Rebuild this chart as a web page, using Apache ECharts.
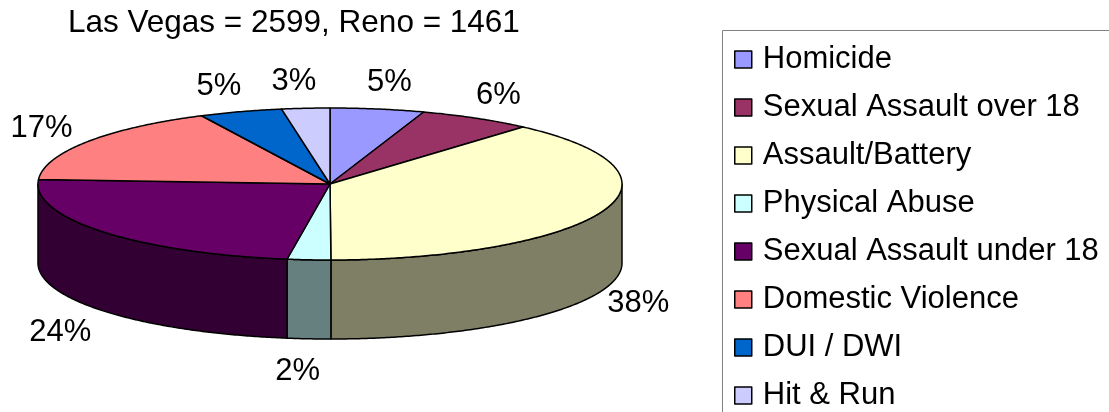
<!DOCTYPE html>
<html>
<head>
<meta charset="utf-8">
<script src="https://cdn.jsdelivr.net/npm/echarts@6/dist/echarts.min.js"></script>
<style>
html, body { margin: 0; padding: 0; background: #fff; }
#chart1 { width: 1109px; height: 412px; }
</style>
</head>
<body>
<div id="chart1"></div>
<script>
// data
var titleText = 'Las Vegas = 2599, Reno = 1461';
var categories = ['Homicide', 'Sexual Assault over 18', 'Assault/Battery', 'Physical Abuse',
    'Sexual Assault under 18', 'Domestic Violence', 'DUI / DWI', 'Hit & Run'];
var shares = [5.2, 6.3, 38.45, 2.4, 23.6, 16.8, 4.6, 2.65];
var colors = ['#9999FF', '#993366', '#FFFFCC', '#CCFFFF', '#660066', '#FF8080', '#0066CC', '#CCCCFF'];

var fontFamily = '"Liberation Sans", Arial, sans-serif';

// pie geometry (3d look)
var cx = 330, cy = 184, rx = 292, ry = 76, depth = 79;

var total = shares.reduce(function (a, b) { return a + b; }, 0);
var cum = [0];
shares.forEach(function (v, i) { cum.push(cum[i] + v); });

function darker(hex) {
    var n = parseInt(hex.slice(1), 16);
    var r = (n >> 16) >> 1, g = ((n >> 8) & 255) >> 1, b = (n & 255) >> 1;
    return 'rgb(' + r + ',' + g + ',' + b + ')';
}
function pt(a, dy) {
    return [cx + rx * Math.sin(a), cy - ry * Math.cos(a) + (dy || 0)];
}
function arc(a0, a1, dy) {
    var pts = [];
    var n = Math.max(2, Math.ceil(Math.abs(a1 - a0) / (Math.PI / 360)));
    for (var k = 0; k <= n; k++) {
        pts.push(pt(a0 + (a1 - a0) * k / n, dy));
    }
    return pts;
}

function renderItem(params, api) {
    var i = params.dataIndex;
    var color = colors[i];
    var start = cum[i] / total * Math.PI * 2;
    var end = (cum[i] + api.value(0)) / total * Math.PI * 2;
    var children = [];

    // side wall, only the front half is visible
    var lo = Math.max(start, Math.PI / 2), hi = Math.min(end, Math.PI * 1.5);
    if (lo < hi) {
        var wall = arc(lo, hi, 0).concat(arc(hi, lo, depth));
        children.push({
            type: 'polygon',
            shape: { points: wall },
            style: { fill: darker(color), stroke: '#000', lineWidth: 1.5, lineJoin: 'round' }
        });
    }
    // top face
    children.push({
        type: 'polygon',
        shape: { points: [[cx, cy]].concat(arc(start, end, 0)) },
        style: { fill: color, stroke: '#000', lineWidth: 1.5, lineJoin: 'round' }
    });
    // percent label, outside the rim
    var mid = (start + end) / 2;
    var s = Math.sin(mid), c = Math.cos(mid);
    var base = pt(mid, c < 0 ? depth : 0);
    var dx = s > 0 ? 7 + 30 * s : -8 + 45 * s;
    children.push({
        type: 'text',
        style: {
            text: Math.round(api.value(0) / total * 100) + '%',
            x: base[0] + dx,
            y: base[1] - c * 30 + 3,
            align: 'center',
            verticalAlign: 'middle',
            fontSize: 31,
            fontFamily: fontFamily,
            fill: '#000'
        }
    });
    return { type: 'group', children: children };
}

var chart = echarts.init(document.getElementById('chart1'));
chart.setOption({
    animation: false,
    title: {
        text: titleText,
        left: 68,
        top: 7,
        padding: 0,
        textStyle: { fontSize: 31.5, fontWeight: 'normal', color: '#000', fontFamily: fontFamily }
    },
    // legend frame runs off the right and bottom edges
    graphic: [{
        type: 'rect',
        shape: { x: 722.5, y: 30.5, width: 440, height: 440 },
        style: { fill: 'none', stroke: '#808080', lineWidth: 1 },
        silent: true
    }],
    legend: {
        orient: 'vertical',
        left: 722,
        top: 31,
        width: 440,
        height: 440,
        data: categories,
        icon: 'rect',
        itemWidth: 17,
        itemHeight: 17,
        itemGap: 17,
        selectedMode: false,
        padding: [13, 40, 40, 12],
        itemStyle: { borderColor: '#000', borderWidth: 1.5 },
        textStyle: { fontSize: 31, lineHeight: 31, color: '#000', fontFamily: fontFamily, padding: [0, 0, 0, 6] }
    },
    series: [
        {
            type: 'custom',
            coordinateSystem: 'none',
            silent: true,
            data: shares.map(function (v, i) { return { name: categories[i], value: [v, i] }; }),
            renderItem: renderItem
        },
        // only here so the legend gets the category names and colours
        {
            type: 'pie',
            radius: 0,
            center: [-500, -500],
            silent: true,
            label: { show: false },
            labelLine: { show: false },
            data: shares.map(function (v, i) {
                return { name: categories[i], value: v, itemStyle: { color: colors[i] } };
            })
        }
    ]
});
</script>
</body>
</html>
